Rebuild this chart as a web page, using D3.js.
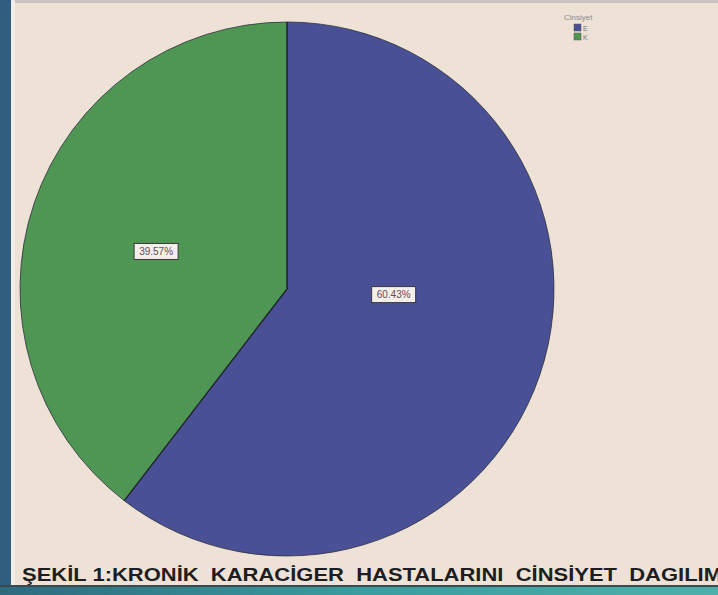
<!DOCTYPE html>
<html>
<head>
<meta charset="utf-8">
<script src="https://cdn.jsdelivr.net/npm/d3@7"></script>
<style>
  html, body { margin: 0; padding: 0; background: #eee2d6; }
  svg { display: block; }
</style>
</head>
<body>
<svg id="chart" width="718" height="595"></svg>
<script>
// Gender distribution of chronic liver disease patients
const categories = ["E", "K"];
const percentages = [60.43, 39.57];
const seriesColors = ["#4a5096", "#4f9654"];
const legendTitle = "Cinsiyet";
const chartTitle = "ŞEKİL 1:KRONİK  KARACİGER  HASTALARINI  CİNSİYET  DAGILIM";

// Label placement around the pie (angle in degrees from 12 o'clock, radius as share of pie radius)
const labelPlacement = [
  { angle: 93, radius: 0.40 },
  { angle: -74, radius: 0.51 }
];

const W = 718, H = 595;
const svg = d3.select("#chart");

// Frame: dark left edge, light inner rim, teal strip along the bottom
svg.append("rect").attr("x", 0).attr("y", 0).attr("width", W).attr("height", H).attr("fill", "#eee2d6");
svg.append("rect").attr("x", 0).attr("y", 0).attr("width", W).attr("height", 3).attr("fill", "#c9c4c2");
svg.append("rect").attr("x", 0).attr("y", 0).attr("width", 11).attr("height", H).attr("fill", "#315d7e");
svg.append("rect").attr("x", 11).attr("y", 0).attr("width", 4).attr("height", 586).attr("fill", "#f1ece8");
svg.append("rect").attr("x", 0).attr("y", 585).attr("width", W).attr("height", 2).attr("fill", "#3c4a50");
const bottomGrad = svg.append("defs").append("linearGradient").attr("id", "bottomStrip");
bottomGrad.append("stop").attr("offset", "0%").attr("stop-color", "#2e6a7e");
bottomGrad.append("stop").attr("offset", "50%").attr("stop-color", "#3a9c9f");
bottomGrad.append("stop").attr("offset", "100%").attr("stop-color", "#4fb0a9");
svg.append("rect").attr("x", 0).attr("y", 587).attr("width", W).attr("height", 8).attr("fill", "url(#bottomStrip)");

// Pie
const cx = 287, cy = 289, r = 267;
const data = categories.map((c, i) => ({ category: c, value: percentages[i], color: seriesColors[i], idx: i }));

const pie = d3.pie().value(d => d.value).sort(null);
const arcs = pie(data);
const arc = d3.arc().innerRadius(0).outerRadius(r);

const g = svg.append("g").attr("transform", `translate(${cx},${cy})`);
g.selectAll("path.slice")
  .data(arcs)
  .join("path")
  .attr("class", "slice")
  .attr("d", arc)
  .attr("fill", d => d.data.color)
  .attr("stroke", "#2b2f3a")
  .attr("stroke-width", 0.8);

// Dark divider lines between the slices
g.selectAll("line.divider")
  .data(arcs)
  .join("line")
  .attr("class", "divider")
  .attr("x1", 0).attr("y1", 0)
  .attr("x2", d => Math.sin(d.startAngle) * r)
  .attr("y2", d => -Math.cos(d.startAngle) * r)
  .attr("stroke", "#22262e")
  .attr("stroke-width", 1.4);

// Percentage labels in white boxes
const fmt = v => v.toFixed(2) + "%";
const labels = g.selectAll("g.lbl")
  .data(arcs)
  .join("g")
  .attr("class", "lbl")
  .attr("transform", d => {
    const p = labelPlacement[d.data.idx];
    const a = p.angle * Math.PI / 180;
    const rr = p.radius * r;
    return `translate(${Math.sin(a) * rr},${-Math.cos(a) * rr})`;
  });
labels.append("rect")
  .attr("x", -22).attr("y", -8).attr("width", 44).attr("height", 16)
  .attr("fill", "#f4efe9").attr("stroke", "#3a3a3a").attr("stroke-width", 1);
labels.append("text")
  .attr("text-anchor", "middle").attr("dy", "0.35em")
  .attr("font-family", "Liberation Sans, Arial, sans-serif")
  .attr("font-size", 10).attr("fill", "#6a4a55")
  .text(d => fmt(d.data.value));

// Legend
const legend = svg.append("g").attr("transform", "translate(564,0)");
legend.append("text")
  .attr("x", 0).attr("y", 20)
  .attr("font-family", "Liberation Sans, Arial, sans-serif")
  .attr("font-size", 8).attr("fill", "#8a8a8a")
  .text(legendTitle);
const items = legend.selectAll("g.item")
  .data(data)
  .join("g")
  .attr("class", "item")
  .attr("transform", (d, i) => `translate(10,${24 + i * 9})`);
items.append("rect")
  .attr("width", 7).attr("height", 7)
  .attr("fill", d => d.color).attr("stroke", "#555").attr("stroke-width", 0.5);
items.append("text")
  .attr("x", 9).attr("y", 6.5)
  .attr("font-family", "Liberation Sans, Arial, sans-serif")
  .attr("font-size", 7).attr("fill", "#777")
  .text(d => d.category);

// Figure caption along the bottom
svg.append("text")
  .attr("x", 22).attr("y", 581)
  .attr("font-family", "Liberation Sans Narrow, Arial Narrow, Liberation Sans, sans-serif")
  .attr("font-weight", "bold")
  .attr("font-size", 19)
  .attr("fill", "#1e1e22")
  .attr("xml:space", "preserve")
  .style("white-space", "pre")
  .attr("textLength", 700)
  .attr("lengthAdjust", "spacingAndGlyphs")
  .text(chartTitle);
</script>
</body>
</html>
